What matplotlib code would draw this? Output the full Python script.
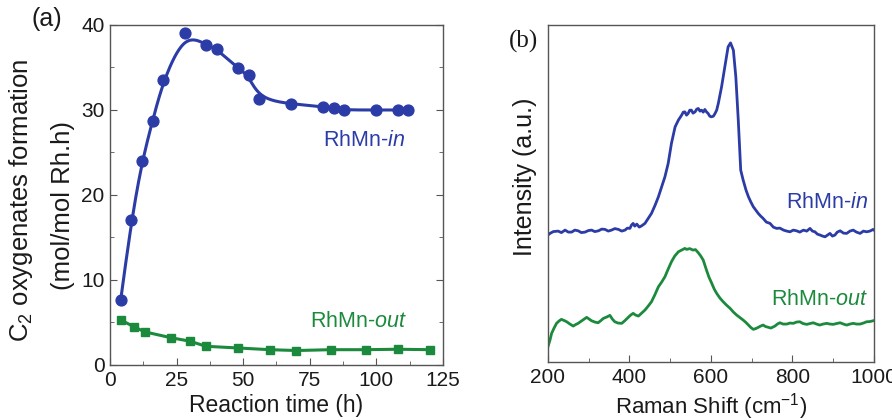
import numpy as np
import matplotlib
matplotlib.use("Agg")
import matplotlib.pyplot as plt
from matplotlib.ticker import MultipleLocator

plt.rcParams["font.family"] = ["Liberation Sans", "DejaVu Sans"]
plt.rcParams["mathtext.fontset"] = "custom"
plt.rcParams["mathtext.rm"] = "Liberation Sans"
plt.rcParams["mathtext.it"] = "Liberation Sans:italic"

BLUE = "#2c3ca6"
GREEN = "#1c8a3c"
SPINE = "#555555"
TEXT = "#1a1a1a"

# ---- (a) C2 oxygenates formation vs reaction time ----
time_in = [4, 8, 12, 16, 20, 28, 36, 40, 48, 52, 56, 68, 80, 84, 88, 100, 108, 112]
rate_in = [7.6, 17.0, 24.0, 28.7, 33.5, 39.0, 37.7, 37.2, 34.9, 34.1, 31.3,
           30.7, 30.4, 30.2, 30.0, 30.0, 30.0, 30.0]
time_out = [4, 9, 13, 23, 30, 36, 48, 60, 70, 83, 96, 108, 120]
rate_out = [5.3, 4.5, 3.9, 3.2, 2.8, 2.2, 2.0, 1.8, 1.7, 1.8, 1.8, 1.85, 1.8]

# ---- (b) Raman spectra (arbitrary intensity units) ----
shift_in = [200, 205, 213, 225, 233, 242, 250, 258, 266, 274, 282, 291, 299, 307,
            315, 324, 332, 340, 348, 356, 364, 373, 381, 389, 395, 401, 405, 409,
            413, 418, 424, 430, 438, 446, 454, 463, 471, 479, 487, 495, 503, 508,
            512, 520, 528, 532, 536, 540, 544, 548, 552, 556, 561, 565, 569, 573,
            577, 581, 585, 589, 593, 597, 601, 606, 610, 614, 618, 626, 634, 642,
            648, 655, 661, 667, 673, 679, 686, 692, 698, 704, 710, 716, 722, 728,
            736, 745, 753, 761, 769, 778, 786, 794, 802, 810, 818, 827, 835, 843,
            849, 855, 861, 868, 874, 880, 886, 892, 898, 904, 910, 917, 925, 933,
            941, 949, 957, 966, 974, 982, 990, 998, 1000]
inten_in = [127, 128.7, 130.5, 131, 129.5, 132, 130, 130, 132, 131.3, 129.5, 130,
            131.5, 132, 130.5, 131.3, 133, 132.7, 131, 132, 133.5, 132.7, 131, 132,
            134, 133.7, 137, 138.7, 136, 138, 135, 136.3, 138.7, 143.7, 148.7, 157,
            165.3, 175.3, 185.3, 198.7, 218.7, 228, 235.3, 242, 247, 250, 250.3,
            247, 248.7, 252, 252, 249, 250.3, 253, 253.7, 251, 252, 250, 252.7,
            250.3, 248.7, 246, 245.3, 246, 248.7, 252, 258.7, 275.3, 295.3, 315.3,
            319.3, 312, 285.3, 242, 192, 182, 172, 165.3, 160, 155.3, 152, 148.7,
            146, 143.7, 140, 138.7, 135, 133.7, 134, 132, 131, 130.3, 132, 131.3,
            130, 132, 131, 133.7, 131, 130.3, 128, 127, 126, 125.3, 127, 128.7, 126,
            127, 130, 131.3, 129, 128.7, 131, 132, 130, 128.7, 131, 130.3, 131,
            132.7, 132]
shift_out = [200, 205, 209, 215, 221, 227, 233, 240, 246, 254, 262, 268, 274, 282,
             289, 295, 301, 307, 315, 323, 330, 336, 344, 352, 358, 364, 372, 381,
             389, 397, 403, 409, 415, 422, 430, 438, 446, 454, 462, 471, 479, 487,
             495, 503, 511, 520, 528, 536, 540, 548, 556, 562, 569, 575, 581, 589,
             595, 602, 608, 614, 622, 630, 638, 647, 655, 663, 671, 679, 686, 692,
             698, 704, 710, 716, 722, 728, 734, 741, 747, 757, 763, 769, 777, 786,
             794, 802, 810, 818, 826, 835, 843, 851, 859, 867, 875, 884, 892, 900,
             908, 917, 925, 933, 941, 949, 957, 966, 974, 982, 990, 998, 1000]
inten_out = [15.3, 22, 28.7, 34, 38.7, 41, 42.7, 41.5, 40.3, 38, 36, 37.5, 38.7, 41,
             43, 44.7, 43, 41.3, 40, 39.3, 41.5, 43.7, 45, 46.7, 43, 40.3, 39, 38.7,
             41.5, 44.7, 47, 48.7, 47, 46, 49, 52, 56, 60.3, 67, 75.3, 80, 85.3, 93,
             100.3, 106, 110.3, 112, 113.7, 112.7, 113.5, 112, 112.5, 109.3, 106,
             102, 92, 85, 78.7, 73, 68.7, 64, 60.3, 57, 53.7, 50, 47, 44.5, 42, 39.5,
             37, 34.5, 32.7, 33.5, 34.7, 36, 37, 35.5, 34.7, 34, 36, 38, 39.3, 38,
             38, 39, 38.7, 40, 40.3, 38.5, 37.7, 38.5, 39.3, 38, 37, 38, 38.7, 38,
             37.7, 38.5, 39.3, 38, 37, 38, 38.7, 38, 38, 39, 40.3, 40.5, 41.3, 41.5]


def bspline(xs, ys, num=600, k=3):
    """Clamped uniform B-spline using the data points as control points."""
    P = np.column_stack([xs, ys]).astype(float)
    n = len(P)
    t = np.concatenate([np.zeros(k), np.linspace(0, 1, n - k + 1), np.ones(k)])
    u = np.linspace(0, 1, num)
    u[-1] -= 1e-9
    N = np.zeros((num, len(t) - 1))
    for i in range(len(t) - 1):
        N[:, i] = (t[i] <= u) & (u < t[i + 1])
    for d in range(1, k + 1):
        Nn = np.zeros((num, len(t) - 1 - d))
        for i in range(len(t) - 1 - d):
            a = np.zeros(num)
            b = np.zeros(num)
            if t[i + d] - t[i] > 0:
                a = (u - t[i]) / (t[i + d] - t[i]) * N[:, i]
            if t[i + d + 1] - t[i + 1] > 0:
                b = (t[i + d + 1] - u) / (t[i + d + 1] - t[i + 1]) * N[:, i + 1]
            Nn[:, i] = a + b
        N = Nn
    C = N @ P
    return C[:, 0], C[:, 1]


fig = plt.figure(figsize=(8.92, 4.2), dpi=100)
ax1 = fig.add_axes([0.1233, 0.131, 0.3733, 0.8095])
ax2 = fig.add_axes([0.6143, 0.138, 0.3655, 0.802])

# panel (a)
sx, sy = bspline(time_in, rate_in)
ax1.plot(sx, sy, color=BLUE, lw=2.2, zorder=2)
ax1.plot(time_in, rate_in, "o", color=BLUE, ms=7.8, zorder=3)
ax1.plot(time_out, rate_out, "s-", color=GREEN, lw=2.2, ms=6.2, zorder=3)
ax1.set_xlim(0, 125)
ax1.set_ylim(0, 40)
ax1.xaxis.set_major_locator(MultipleLocator(25))
ax1.xaxis.set_minor_locator(MultipleLocator(12.5))
ax1.yaxis.set_major_locator(MultipleLocator(10))
ax1.yaxis.set_minor_locator(MultipleLocator(5))
ax1.tick_params(which="both", direction="in", right=True, color=SPINE,
                labelsize=15, labelcolor=TEXT, pad=4)
ax1.tick_params(which="major", length=5)
ax1.tick_params(which="minor", length=3)
ax1.set_xlabel("Reaction time (h)", fontsize=16.5, color=TEXT, labelpad=3)
fig.text(21 / 892, 1 - 200 / 420, "C$_2$ oxygenates formation", fontsize=18.5,
         rotation=90, ha="center", va="center", color=TEXT)
fig.text(63 / 892, 1 - 205 / 420, "(mol/mol Rh.h)", fontsize=18.5,
         rotation=90, ha="center", va="center", color=TEXT)
ax1.text(111, 26.4, "RhMn-$\\mathit{in}$", color=BLUE, fontsize=15.5,
         ha="right", va="center")
ax1.text(111.5, 5.1, "RhMn-$\\mathit{out}$", color=GREEN, fontsize=15.5,
         ha="right", va="center")

# panel (b)
ax2.plot(shift_in, inten_in, color=BLUE, lw=2.0)
ax2.plot(shift_out, inten_out, color=GREEN, lw=2.0)
ax2.set_xlim(200, 1000)
ax2.set_ylim(0, 337)
ax2.xaxis.set_major_locator(MultipleLocator(200))
ax2.xaxis.set_minor_locator(MultipleLocator(100))
ax2.set_yticks([])
ax2.tick_params(which="both", direction="in", color=SPINE, labelsize=15,
                labelcolor=TEXT, pad=4)
ax2.tick_params(which="major", length=5)
ax2.tick_params(which="minor", length=3)
ax2.set_xlabel("Raman Shift (cm$^{-1}$)", fontsize=16, color=TEXT, labelpad=3)
fig.text(525 / 892, 1 - 177 / 420, "Intensity (a.u.)", fontsize=18,
         rotation=90, ha="center", va="center", color=TEXT)
ax2.text(985, 160, "RhMn-$\\mathit{in}$", color=BLUE, fontsize=15.5,
         ha="right", va="center")
ax2.text(985, 63, "RhMn-$\\mathit{out}$", color=GREEN, fontsize=15.5,
         ha="right", va="center")

for ax in (ax1, ax2):
    for s in ax.spines.values():
        s.set_color(SPINE)
        s.set_linewidth(1.0)

fig.text(47 / 892, 1 - 19 / 420, "(a)", fontsize=18, color=TEXT,
         ha="center", va="center")
fig.text(524 / 892, 1 - 41 / 420, "(b)", fontsize=18, family="Liberation Serif",
         color=TEXT, ha="center", va="center")

fig.savefig("out.png", dpi=100)
